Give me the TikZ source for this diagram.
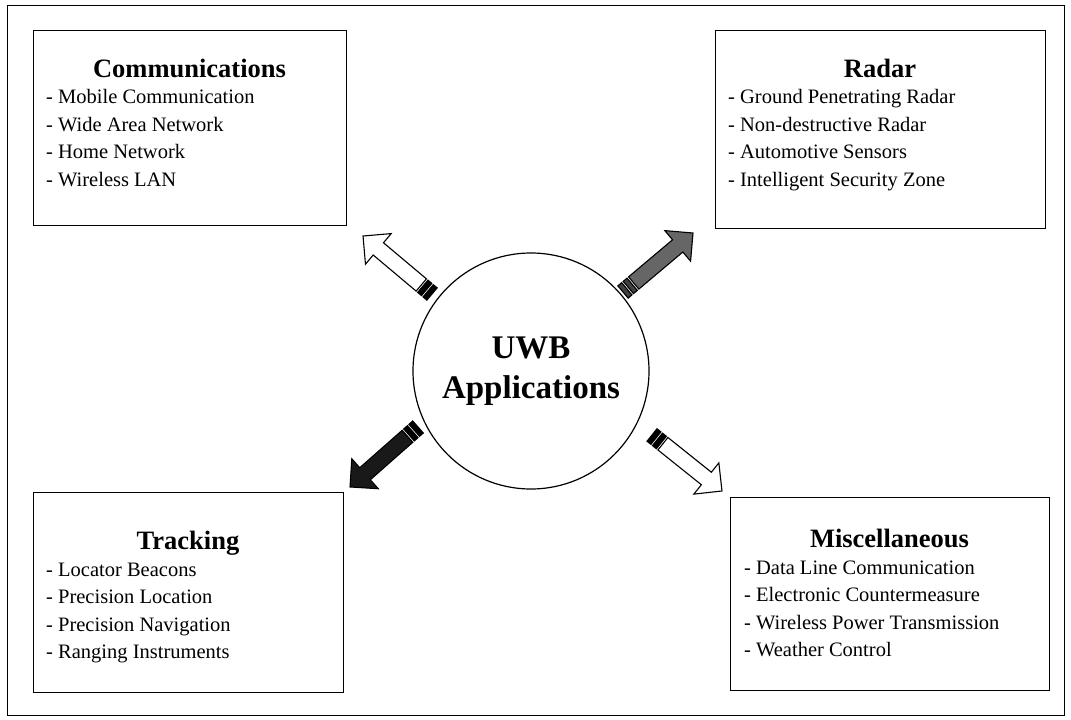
\documentclass[tikz,border=0pt]{standalone}
\usepackage{fontspec}
\setmainfont{Liberation Serif}
\usepackage{tikz}
\usetikzlibrary{positioning, calc}

% block arrow from tail #1 to tip #2, body fill #3, tail bands #4
\newcommand{\blockarrow}[4]{%
  \pgfmathanglebetweenpoints{\pgfpointanchor{#1}{center}}{\pgfpointanchor{#2}{center}}%
  \let\arrangle\pgfmathresult
  \pgfpointdiff{\pgfpointanchor{#1}{center}}{\pgfpointanchor{#2}{center}}%
  \pgfgetlastxy{\arrdx}{\arrdy}%
  \pgfmathsetmacro{\arrlen}{veclen(\arrdx,\arrdy)}%
  \begin{scope}[shift={(#1)}, rotate=\arrangle]
    \draw[arrowline, fill=#3] (14,-8) -- ({\arrlen-20},-8) -- ({\arrlen-20},-20)
      -- (\arrlen,0) -- ({\arrlen-20},20) -- ({\arrlen-20},8) -- (14,8) -- cycle;
    \draw[arrowline, fill=#4] (0,-8) rectangle (5,8);
    \draw[arrowline, fill=#4] (7,-8) rectangle (12,8);
  \end{scope}}

\begin{document}
\begin{tikzpicture}[x=1pt, y=-1pt,
  panel/.style={rectangle, draw, line width=1.2pt, anchor=north west, inner sep=0pt},
  boxtitle/.style={font=\fontsize{26.5}{30}\selectfont\bfseries, anchor=base, inner sep=0pt},
  boxitems/.style={font=\fontsize{20.5}{27.5}\selectfont, align=left, anchor=north west, inner sep=0pt},
  arrowline/.style={draw=black, line width=1.1pt, line join=miter}]
  \useasboundingbox (0,0) rectangle (1071,720);
  % Outer frame
  \node[panel, line width=0.8pt, minimum width=1057pt, minimum height=710pt] (frame) at (7,5) {};
  % Centre
  \node[circle, draw, line width=1.2pt, minimum size=236pt, inner sep=0pt, align=center,
    font=\fontsize{33}{40}\selectfont\bfseries] (app) at (531,371) {UWB\\Applications};
  % Application boxes
  \node[panel, minimum width=313pt, minimum height=195pt] (comm) at (33,30) {};
  \node[boxtitle] (commT) at (189.5,77) {Communications};
  \node[boxitems] (commL) at (46,89.5) {- Mobile Communication\\- Wide Area Network\\- Home Network\\- Wireless LAN};
  \node[panel, minimum width=330pt, minimum height=198pt] (radar) at (715,30) {};
  \node[boxtitle] (radarT) at (880,77) {Radar};
  \node[boxitems] (radarL) at (728,89.5) {- Ground Penetrating Radar\\- Non-destructive Radar\\- Automotive Sensors\\- Intelligent Security Zone};
  \node[panel, minimum width=310pt, minimum height=200pt] (track) at (33,492) {};
  \node[boxtitle] (trackT) at (188,549) {Tracking};
  \node[boxitems] (trackL) at (46,562.5) {- Locator Beacons\\- Precision Location\\- Precision Navigation\\- Ranging Instruments};
  \node[panel, minimum width=319pt, minimum height=193pt] (misc) at (730,497) {};
  \node[boxtitle] (miscT) at (889.5,547) {Miscellaneous};
  \node[boxitems] (miscL) at (744,560.5) {- Data Line Communication\\- Electronic Countermeasure\\- Wireless Power Transmission\\- Weather Control};
  % Arrows
  \coordinate (nwT) at (432,294); \coordinate (nwP) at (363,236);
  \coordinate (neT) at (623,292); \coordinate (neP) at (693,233);
  \coordinate (swT) at (418,427); \coordinate (swP) at (350,487);
  \coordinate (seT) at (652,435); \coordinate (seP) at (722,491);
  \blockarrow{nwT}{nwP}{white}{black}
  \blockarrow{neT}{neP}{black!60}{black!75}
  \blockarrow{swT}{swP}{black!90}{black}
  \blockarrow{seT}{seP}{white}{black}
\end{tikzpicture}
\end{document}
